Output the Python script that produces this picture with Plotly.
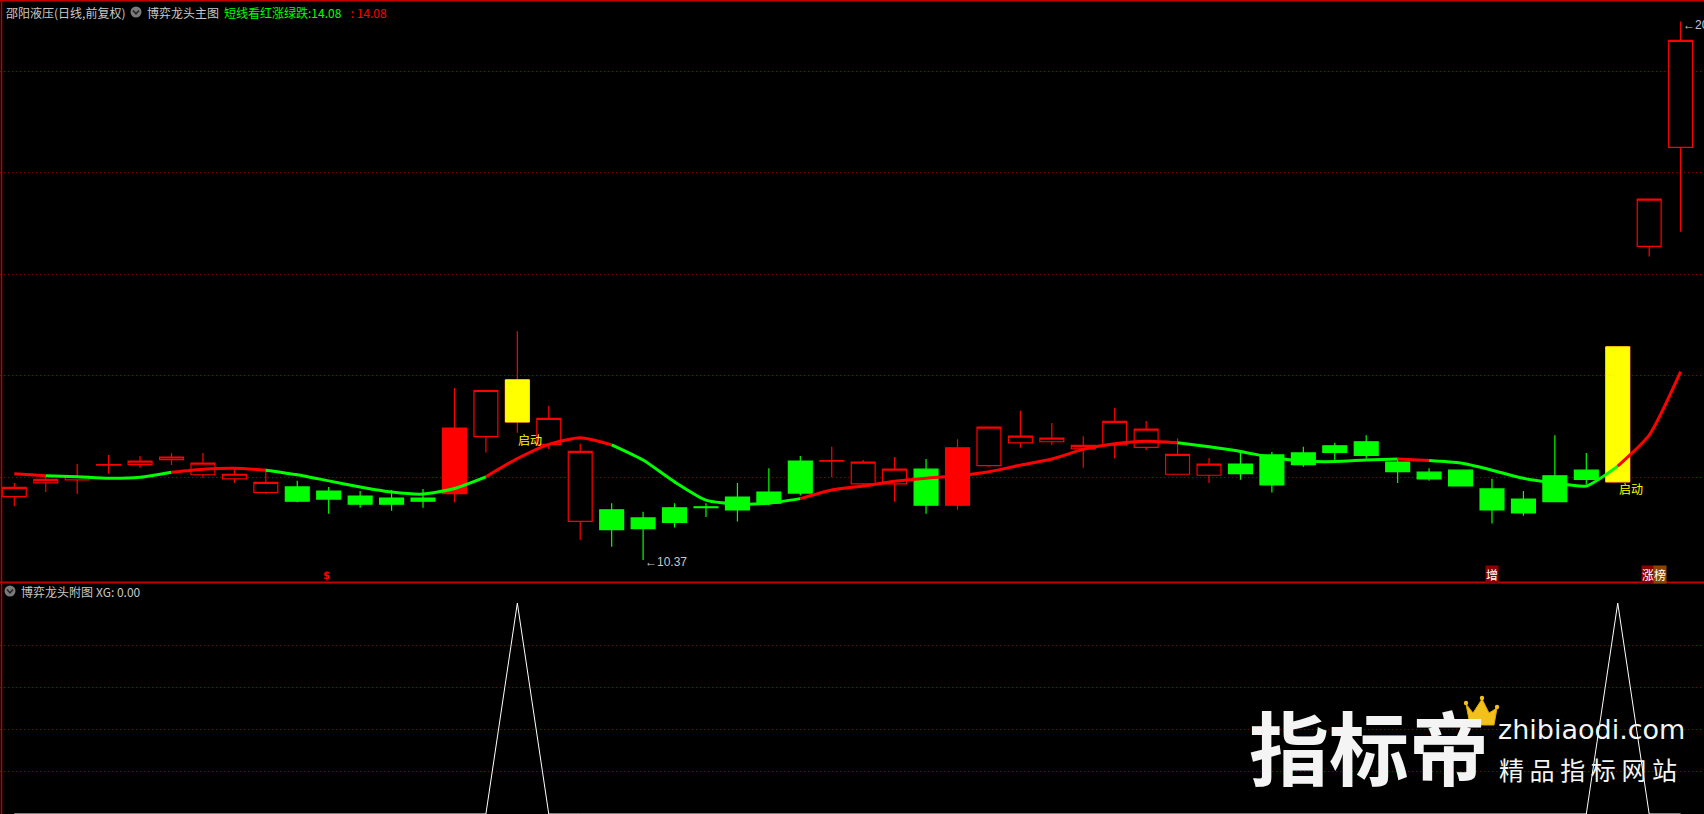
import plotly.graph_objects as go

W, H = 1704, 814

# ---------------- data ----------------
bars = list(range(54))
open_ = [11.62, 11.89, 11.95, 12.24, 12.25, 12.35, 12.05, 11.97, 11.70, 11.81,
         11.73, 11.63, 11.59, 11.59, 11.68, 12.80, 13.09, 12.65, 11.13, 11.36,
         11.20, 11.40, 11.42, 11.61, 11.71, 12.32, 12.32, 11.87, 11.87, 12.16,
         11.45, 12.23, 12.68, 12.70, 12.56, 12.64, 12.59, 12.06, 12.04, 12.26,
         12.44, 12.48, 12.62, 12.70, 12.30, 12.10, 12.14, 11.77, 11.57, 12.03,
         12.14, 11.91, 16.55, 18.50]
high = [11.89, 12.03, 12.26, 12.44, 12.42, 12.48, 12.48, 12.16, 12.18, 11.93,
        11.81, 11.73, 11.75, 11.77, 13.76, 13.72, 14.88, 13.41, 12.66, 11.49,
        11.32, 11.49, 11.49, 11.89, 12.18, 12.42, 12.60, 12.34, 12.40, 12.36,
        12.75, 13.00, 13.31, 13.07, 12.81, 13.37, 13.11, 12.77, 12.38, 12.48,
        12.50, 12.60, 12.68, 12.83, 12.36, 12.18, 12.15, 11.97, 11.73, 12.83,
        12.48, 14.57, 17.48, 20.98]
low = [11.43, 11.71, 11.67, 12.07, 12.19, 12.24, 11.99, 11.89, 11.67, 11.51,
       11.28, 11.40, 11.34, 11.40, 11.51, 12.49, 12.88, 12.56, 10.77, 10.63,
       10.37, 11.01, 11.22, 11.13, 11.45, 11.64, 12.00, 11.85, 11.52, 11.28,
       11.36, 12.21, 12.58, 12.64, 12.19, 12.37, 12.54, 12.05, 11.89, 11.95,
       11.70, 12.21, 12.34, 12.37, 11.89, 11.93, 11.82, 11.09, 11.24, 11.51,
       11.87, 11.91, 16.35, 16.84]
close = [11.80, 11.96, 12.02, 12.25, 12.32, 12.40, 12.28, 12.06, 11.90, 11.53,
         11.57, 11.47, 11.47, 11.53, 12.97, 13.71, 13.92, 13.16, 12.51, 10.97,
         10.99, 11.11, 11.40, 11.36, 11.49, 11.69, 12.33, 12.30, 12.16, 11.45,
         12.58, 12.99, 12.81, 12.77, 12.63, 13.10, 12.95, 12.45, 12.26, 12.07,
         11.85, 12.25, 12.49, 12.43, 12.11, 11.97, 11.83, 11.36, 11.30, 11.52,
         11.96, 14.57, 17.48, 20.61]

# 短线看红涨绿跌 line value per bar
trend_line = [12.07, 12.03, 12.01, 11.98, 12.00, 12.10, 12.16, 12.18, 12.14, 12.05,
              11.93, 11.81, 11.71, 11.67, 11.78, 12.01, 12.37, 12.65, 12.78, 12.64,
              12.34, 11.91, 11.55, 11.47, 11.49, 11.58, 11.75, 11.83, 11.92, 11.98,
              12.03, 12.11, 12.24, 12.36, 12.55, 12.66, 12.71, 12.68, 12.60, 12.51,
              12.39, 12.32, 12.31, 12.34, 12.36, 12.33, 12.28, 12.14, 11.98, 11.89,
              11.83, 12.22, 12.83, 14.08]
# state of each segment (bar i -> bar i+1): 1 = 红(涨), 0 = 绿(跌)
trend_state = [1, 0, 0, 0, 0, 1, 1, 1, 0, 0,
               0, 0, 0, 0, 0, 1, 1, 1, 1, 0,
               0, 0, 0, 0, 0, 1, 1, 1, 1, 1,
               1, 1, 1, 1, 1, 1, 1, 0, 0, 0,
               0, 0, 0, 0, 1, 0, 0, 0, 0, 0,
               0, 1, 1]

# XG indicator (附图)
xg = [0, 0, 0, 0, 0, 0, 0, 0, 0, 0,
      0, 0, 0, 0, 0, 0, 1, 0, 0, 0,
      0, 0, 0, 0, 0, 0, 0, 0, 0, 0,
      0, 0, 0, 0, 0, 0, 0, 0, 0, 0,
      0, 0, 0, 0, 0, 0, 0, 0, 0, 0,
      0, 1, 0, 0]

signal_bars = [16, 51]      # 启动
strong_bars = [14, 30]      # solid red candles
zeng_bar = 47               # 增
zhangbang_bar = 52          # 涨榜
dollar_bar = 10
low_label = "10.37"
high_label = "20.98"

# ---------------- style ----------------
RED = "#ff0000"
GREEN = "#00ff00"
YELLOW = "#ffff00"
GRID = "#8a0000"
BORDER = "#c00000"
TXT = "#c8c8c8"
CJK = "Noto Sans CJK SC"


def px(xp):
    return xp / W


def py(yp):
    return 1 - yp / H


fig = go.Figure()

# trend line, split into colour runs
start = 0
n = len(trend_state)
for i in range(1, n + 1):
    if i == n or trend_state[i] != trend_state[start]:
        a, b = start, i
        fig.add_trace(go.Scatter(
            x=bars[a:b + 1], y=trend_line[a:b + 1], mode="lines",
            line=dict(color=RED if trend_state[start] else GREEN, width=3,
                      shape="spline", smoothing=0.6),
            hoverinfo="skip", showlegend=False, xaxis="x", yaxis="y"))
        start = i


def pick(seq, idx):
    return [seq[i] for i in idx]


normal = [i for i in bars if i not in strong_bars]
fig.add_trace(go.Candlestick(
    x=pick(bars, normal), open=pick(open_, normal), high=pick(high, normal),
    low=pick(low, normal), close=pick(close, normal),
    increasing=dict(line=dict(color=RED, width=1.2), fillcolor="#000000"),
    decreasing=dict(line=dict(color=GREEN, width=1.2), fillcolor=GREEN),
    whiskerwidth=0, showlegend=False, xaxis="x", yaxis="y"))
fig.add_trace(go.Candlestick(
    x=pick(bars, strong_bars), open=pick(open_, strong_bars), high=pick(high, strong_bars),
    low=pick(low, strong_bars), close=pick(close, strong_bars),
    increasing=dict(line=dict(color=RED, width=1.2), fillcolor=RED),
    decreasing=dict(line=dict(color=RED, width=1.2), fillcolor=RED),
    whiskerwidth=0, showlegend=False, xaxis="x", yaxis="y"))
sig_o = pick(open_, signal_bars)
sig_c = pick(close, signal_bars)
fig.add_trace(go.Candlestick(
    x=pick(bars, signal_bars), open=sig_o, close=sig_c,
    high=[max(o, c) for o, c in zip(sig_o, sig_c)],
    low=[min(o, c) for o, c in zip(sig_o, sig_c)],
    increasing=dict(line=dict(color=YELLOW, width=1), fillcolor=YELLOW),
    decreasing=dict(line=dict(color=YELLOW, width=1), fillcolor=YELLOW),
    whiskerwidth=0, showlegend=False, xaxis="x", yaxis="y"))

# XG
fig.add_trace(go.Scatter(x=bars, y=xg, mode="lines",
                         line=dict(color="#ffffff", width=1),
                         hoverinfo="skip", showlegend=False, xaxis="x2", yaxis="y2"))

spacing = 31.44
xmin = -14.3 / spacing
xmax = xmin + W / spacing
main_bottom_px = 582
main_top_px = 1
ppu = 50.75  # px per yuan
ytop = 20 + (71.3 - main_top_px) / ppu
ybot = 20 - (main_bottom_px - 71.3) / ppu

axis_common = dict(showticklabels=False, zeroline=False, showline=False, ticks="")
fig.update_layout(
    width=W, height=H, margin=dict(l=0, r=0, t=0, b=0, pad=0),
    paper_bgcolor="#000000", plot_bgcolor="#000000",
    showlegend=False, boxgap=0.24, boxgroupgap=0, boxmode="overlay",
    xaxis=dict(domain=[0, 1], range=[xmin, xmax], anchor="y", showgrid=False,
               rangeslider=dict(visible=False), **axis_common),
    yaxis=dict(domain=[1 - main_bottom_px / H, 1 - main_top_px / H], range=[ybot, ytop],
               anchor="x", tickvals=[12, 14, 16, 18, 20], showgrid=True,
               gridcolor=GRID, gridwidth=1, griddash="1px,3px", **axis_common),
    xaxis2=dict(domain=[0, 1], range=[xmin, xmax], anchor="y2", matches="x",
                showgrid=False, **axis_common),
    yaxis2=dict(domain=[0, 1 - main_bottom_px / H], range=[0, 1.1], anchor="x2",
                tickvals=[0.2, 0.4, 0.6, 0.8], showgrid=True, gridcolor=GRID,
                gridwidth=1, griddash="1px,3px", **axis_common),
)

shapes = []
# borders
shapes.append(dict(type="line", xref="paper", yref="paper", x0=px(1.5), x1=px(1.5), y0=0, y1=1,
                   line=dict(color=BORDER, width=1.5)))
shapes.append(dict(type="line", xref="paper", yref="paper", x0=0, x1=1, y0=py(0.8), y1=py(0.8),
                   line=dict(color=BORDER, width=1.5)))
shapes.append(dict(type="line", xref="paper", yref="paper", x0=0, x1=1, y0=py(582.5), y1=py(582.5),
                   line=dict(color=BORDER, width=1.8)))


def icon(cx, cy):
    r = 5.5
    shapes.append(dict(type="circle", xref="paper", yref="paper",
                       x0=px(cx - r), x1=px(cx + r), y0=py(cy + r), y1=py(cy - r),
                       fillcolor="#7a7a7a", line=dict(width=0)))
    shapes.append(dict(type="path", xref="paper", yref="paper",
                       path=f"M {px(cx-3)} {py(cy-1.5)} L {px(cx)} {py(cy+1.8)} L {px(cx+3)} {py(cy-1.5)}",
                       line=dict(color="#262626", width=1.6)))


icon(136, 12)
icon(10, 591)

# crown for watermark
cr = [(1466, 704), (1473, 713), (1482, 699), (1489, 713), (1497, 708), (1494, 725), (1470, 725)]
path = "M " + " L ".join(f"{px(a)} {py(b)}" for a, b in cr) + " Z"
shapes.append(dict(type="path", xref="paper", yref="paper", path=path,
                   fillcolor="#f2c21a", line=dict(color="#e0a800", width=1)))
for (a, b) in [(1466, 703), (1482, 698), (1497, 707)]:
    shapes.append(dict(type="circle", xref="paper", yref="paper",
                       x0=px(a - 2.2), x1=px(a + 2.2), y0=py(b + 2.2), y1=py(b - 2.2),
                       fillcolor="#f2c21a", line=dict(width=0)))
fig.update_layout(shapes=shapes)

ann = []


def text(xp, yp, s, color=TXT, size=12, family=CJK, xanchor="left", **kw):
    ann.append(dict(xref="paper", yref="paper", x=px(xp), y=py(yp), text=s, showarrow=False,
                    xanchor=xanchor, yanchor="middle", font=dict(color=color, size=size, family=family), **kw))


text(4, 12, "邵阳液压(日线,前复权)")
text(145, 12, "博弈龙头主图")
text(222, 12, "短线看红涨绿跌:" + f"{trend_line[-1]:.2f}", color=GREEN)
text(346, 12, f" : {trend_line[-1]:.2f}", color=RED)
text(19, 591, "博弈龙头附图")
text(94, 591, f"XG: {xg[-1]:.2f}")

# 启动 labels below yellow bars
for b in signal_bars:
    ann.append(dict(xref="x", yref="y", x=b, y=low[b],
                    text="启动", showarrow=False, xanchor="left", yanchor="top", xshift=-1, yshift=4,
                    font=dict(color=YELLOW, size=12, family=CJK)))
# low / high price labels
ann.append(dict(xref="x", yref="y", x=20, y=min(low), text="←" + low_label, showarrow=False,
                xanchor="left", yanchor="middle", yshift=-2,
                font=dict(color=TXT, size=12, family="Liberation Sans")))
ann.append(dict(xref="x", yref="y", x=53, y=max(high), text="←" + high_label, showarrow=False,
                xanchor="left", yanchor="middle", yshift=-3,
                font=dict(color=TXT, size=12, family="Liberation Sans")))
# markers above the divider
ann.append(dict(xref="x", yref="paper", x=dollar_bar, y=py(575), text="<b>$</b>", showarrow=False,
                xanchor="center", yanchor="middle", xshift=-2,
                font=dict(color=RED, size=10, family="DejaVu Sans")))
ann.append(dict(xref="x", yref="paper", x=zeng_bar, y=py(574.5), text="增", showarrow=False,
                xanchor="center", yanchor="middle", bgcolor="#8b0000", borderpad=0,
                font=dict(color="#ffffff", size=12, family=CJK)))
ann.append(dict(xref="x", yref="paper", x=zhangbang_bar, y=py(574.5), text="涨", showarrow=False,
                xanchor="center", yanchor="middle", bgcolor="#8b0000", borderpad=0, xshift=-1,
                font=dict(color="#ffffff", size=12, family=CJK)))
ann.append(dict(xref="x", yref="paper", x=zhangbang_bar, y=py(574.5), text="榜", showarrow=False,
                xanchor="center", yanchor="middle", bgcolor="#8b4500", borderpad=0, xshift=11,
                font=dict(color="#ffffff", size=12, family=CJK)))

# watermark
text(1369, 744, "<b>指标帝</b>", color="#f4f4f4", size=80, xanchor="center")
text(1496, 729, "zhibiaodi.com", color="#f4f4f4", size=27, family="DejaVu Sans")
text(1497, 769, "精 品 指 标 网 站", color="#f4f4f4", size=25)

fig.update_layout(annotations=ann)

fig.write_html("out.html", config={"displayModeBar": False},
               post_script="document.body.style.margin='0';document.body.style.overflow='hidden';")
